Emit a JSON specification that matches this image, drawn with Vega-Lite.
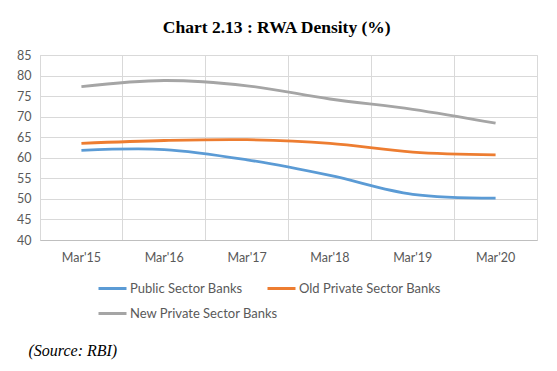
{
  "$schema": "https://vega.github.io/schema/vega-lite/v6.json",
  "width": 497,
  "height": 185,
  "autosize": {"type": "none"},
  "padding": {"left": 40, "top": 55, "right": 20, "bottom": 131},
  "background": "white",
  "title": {
    "text": "Chart 2.13 : RWA Density (%)",
    "font": "Liberation Serif",
    "fontSize": 17.5,
    "fontWeight": "bold",
    "color": "#000000",
    "anchor": "middle",
    "frame": "bounds",
    "offset": 13
  },
  "data": {
    "values": [
      {"period": "Mar'15", "series": "Public Sector Banks", "value": 61.8},
      {"period": "Mar'16", "series": "Public Sector Banks", "value": 62.0},
      {"period": "Mar'17", "series": "Public Sector Banks", "value": 59.5},
      {"period": "Mar'18", "series": "Public Sector Banks", "value": 55.7},
      {"period": "Mar'19", "series": "Public Sector Banks", "value": 51.1},
      {"period": "Mar'20", "series": "Public Sector Banks", "value": 50.2},
      {"period": "Mar'15", "series": "Old Private Sector Banks", "value": 63.5},
      {"period": "Mar'16", "series": "Old Private Sector Banks", "value": 64.2},
      {"period": "Mar'17", "series": "Old Private Sector Banks", "value": 64.4},
      {"period": "Mar'18", "series": "Old Private Sector Banks", "value": 63.5},
      {"period": "Mar'19", "series": "Old Private Sector Banks", "value": 61.4},
      {"period": "Mar'20", "series": "Old Private Sector Banks", "value": 60.7},
      {"period": "Mar'15", "series": "New Private Sector Banks", "value": 77.3},
      {"period": "Mar'16", "series": "New Private Sector Banks", "value": 78.8},
      {"period": "Mar'17", "series": "New Private Sector Banks", "value": 77.5},
      {"period": "Mar'18", "series": "New Private Sector Banks", "value": 74.3},
      {"period": "Mar'19", "series": "New Private Sector Banks", "value": 71.8},
      {"period": "Mar'20", "series": "New Private Sector Banks", "value": 68.4}
    ]
  },
  "mark": {"type": "line", "interpolate": "catmull-rom", "strokeWidth": 2.8},
  "encoding": {
    "x": {
      "field": "period",
      "type": "ordinal",
      "bandPosition": 0.5,
      "scale": {"type": "band", "paddingInner": 0, "paddingOuter": 0},
      "axis": {
        "bandPosition": 0,
        "grid": true,
        "gridColor": "#d9d9d9",
        "gridWidth": 1,
        "ticks": false,
        "domainColor": "#bfbfbf",
        "domainWidth": 1,
        "labelAngle": 0,
        "labelFont": "Lato",
        "labelFontSize": 12.5,
        "labelColor": "#595959",
        "labelPadding": 11,
        "labelAlign": "center",
        "title": "(Source: RBI)",
        "titleFont": "Liberation Serif",
        "titleFontStyle": "italic",
        "titleFontWeight": "normal",
        "titleFontSize": 16,
        "titleColor": "#000000",
        "titleAnchor": "start",
        "titleAlign": "left",
        "titleBaseline": "alphabetic",
        "titleX": -12,
        "titleY": 115
      }
    },
    "y": {
      "field": "value",
      "type": "quantitative",
      "scale": {"domain": [40, 85], "nice": false, "zero": false},
      "axis": {
        "values": [40, 45, 50, 55, 60, 65, 70, 75, 80, 85],
        "grid": true,
        "gridColor": "#d9d9d9",
        "domain": false,
        "ticks": false,
        "labelFont": "Lato",
        "labelFontSize": 12.5,
        "labelColor": "#595959",
        "labelPadding": 9,
        "title": null
      }
    },
    "color": {
      "field": "series",
      "type": "nominal",
      "scale": {
        "domain": ["Public Sector Banks", "Old Private Sector Banks", "New Private Sector Banks"],
        "range": ["#5b9bd5", "#ed7d31", "#a5a5a5"]
      },
      "legend": {
        "title": null,
        "orient": "none",
        "legendX": 57,
        "legendY": 218,
        "direction": "horizontal",
        "columns": 2,
        "gridAlign": "none",
        "columnPadding": -17,
        "rowPadding": 2,
        "symbolType": "stroke",
        "symbolSize": 784,
        "symbolStrokeWidth": 3,
        "labelFont": "Lato",
        "labelFontSize": 13,
        "labelColor": "#595959",
        "labelOffset": 2,
        "labelLimit": 300
      }
    }
  },
  "config": {
    "view": {"stroke": "#d9d9d9"}
  }
}
